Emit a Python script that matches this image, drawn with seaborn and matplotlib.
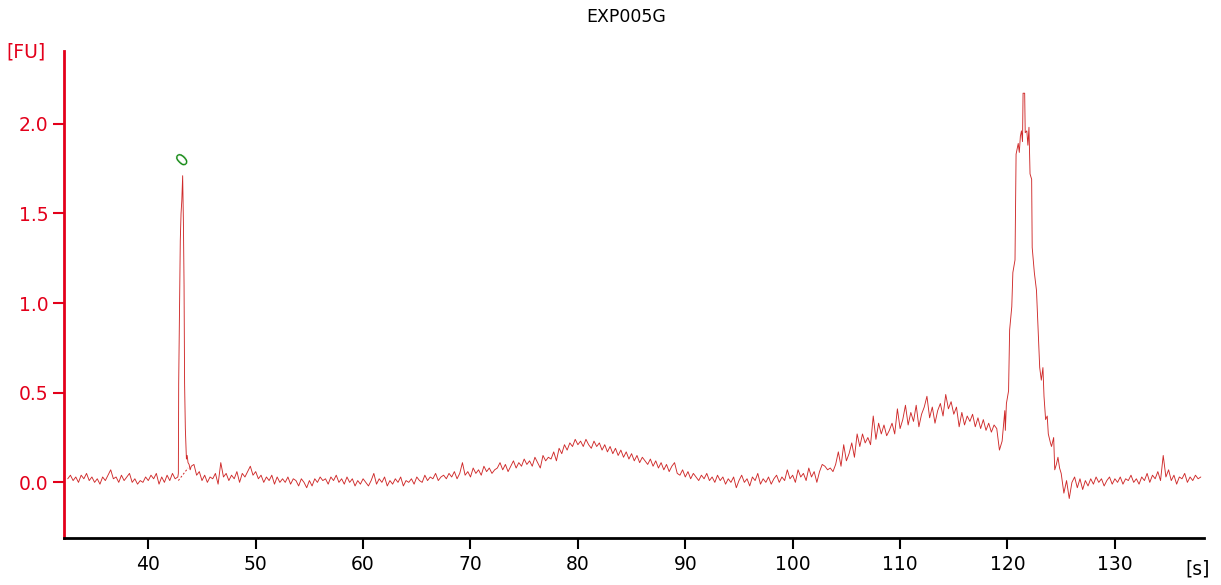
import numpy as np
import pandas as pd
import matplotlib
matplotlib.use("Agg")
import matplotlib.pyplot as plt
import seaborn as sns

title = "EXP005G"
x_unit = "[s]"
y_unit = "[FU]"

# uniform trace, one value every 0.25 s from 32.5 s
t_start = 32.5
t_step = 0.25
fu_grid = [
    0.02, 0.04, 0.01, 0.03, 0.00, 0.04, 0.02, 0.05, 0.01, 0.03, 0.00, 0.02, -0.01, 0.03, 0.01, 0.04, 0.07, 0.02, 0.03, 0.00,
    0.04, 0.01, 0.03, 0.05, 0.00, 0.02, -0.01, 0.01, 0.00, 0.03, 0.01, 0.04, 0.02, 0.05, -0.01, 0.03, 0.00, 0.04, 0.01, 0.05,
    0.02, 0.03, 0.95, 1.60, 0.13, 0.12, 0.08, 0.10, 0.04, 0.06, 0.01, 0.04, 0.00, 0.03, 0.02, 0.05, -0.01, 0.11, 0.03, 0.05,
    0.01, 0.04, 0.02, 0.06, 0.00, 0.05, 0.03, 0.06, 0.09, 0.04, 0.06, 0.02, 0.04, 0.00, 0.03, 0.01, 0.04, -0.01, 0.03, 0.00,
    0.02, 0.00, 0.03, -0.01, 0.02, 0.01, -0.02, 0.02, 0.00, -0.03, 0.01, -0.02, 0.02, 0.00, 0.03, 0.01, 0.02, -0.01, 0.03, 0.01,
    0.04, 0.00, 0.02, -0.01, 0.03, 0.00, 0.02, -0.02, 0.01, -0.01, 0.02, 0.00, -0.02, 0.01, 0.05, -0.01, 0.02, 0.00, 0.03, -0.02,
    0.01, -0.01, 0.02, 0.00, 0.03, -0.02, 0.01, 0.00, 0.02, -0.01, 0.03, 0.01, 0.00, 0.04, 0.01, 0.03, 0.02, 0.05, 0.01, 0.03,
    0.04, 0.02, 0.05, 0.03, 0.06, 0.02, 0.05, 0.11, 0.04, 0.06, 0.03, 0.08, 0.05, 0.07, 0.04, 0.09, 0.06, 0.08, 0.05, 0.07,
    0.08, 0.11, 0.07, 0.10, 0.06, 0.09, 0.12, 0.08, 0.11, 0.09, 0.13, 0.10, 0.12, 0.09, 0.14, 0.11, 0.08, 0.15, 0.12, 0.14,
    0.13, 0.17, 0.12, 0.19, 0.16, 0.21, 0.18, 0.22, 0.20, 0.24, 0.21, 0.23, 0.20, 0.24, 0.21, 0.19, 0.23, 0.20, 0.22, 0.18,
    0.21, 0.17, 0.20, 0.16, 0.19, 0.15, 0.18, 0.14, 0.17, 0.13, 0.16, 0.12, 0.15, 0.11, 0.14, 0.12, 0.10, 0.13, 0.09, 0.12,
    0.08, 0.11, 0.07, 0.10, 0.06, 0.09, 0.11, 0.05, 0.04, 0.07, 0.03, 0.06, 0.02, 0.05, 0.03, 0.01, 0.04, 0.02, 0.05, 0.01,
    0.03, 0.00, 0.04, 0.01, 0.03, -0.01, 0.02, 0.00, 0.03, -0.03, 0.01, 0.04, 0.00, 0.02, -0.02, 0.03, 0.01, 0.05, -0.01, 0.02,
    0.00, 0.03, -0.01, 0.02, 0.04, 0.00, 0.03, 0.01, 0.07, 0.02, 0.04, 0.00, 0.07, 0.03, 0.05, 0.01, 0.08, 0.03, 0.06, 0.00,
    0.06, 0.10, 0.09, 0.07, 0.08, 0.06, 0.10, 0.17, 0.09, 0.21, 0.12, 0.16, 0.22, 0.14, 0.27, 0.20, 0.27, 0.22, 0.25, 0.21,
    0.37, 0.24, 0.33, 0.27, 0.32, 0.26, 0.29, 0.33, 0.27, 0.41, 0.30, 0.35, 0.43, 0.32, 0.39, 0.34, 0.43, 0.31, 0.38, 0.42,
    0.48, 0.36, 0.42, 0.33, 0.40, 0.44, 0.37, 0.49, 0.41, 0.45, 0.38, 0.42, 0.31, 0.39, 0.32, 0.37, 0.34, 0.38, 0.31, 0.36,
    0.30, 0.35, 0.29, 0.33, 0.28, 0.32, 0.30, 0.18, 0.23, 0.40, 0.55, 0.95, 1.20, 1.85, 1.92, 1.95, 2.17, 1.96, 1.98, 1.35,
    1.15, 0.75, 0.55, 0.30, 0.20, 0.10, 0.14, 0.04, -0.04, 0.06, 0.00, -0.06, 0.01, -0.09, 0.00, 0.03, -0.03, 0.02, -0.04, 0.01,
    -0.02, 0.02, -0.01, 0.03, 0.00, 0.02, -0.02, 0.01, 0.03, -0.01, 0.02, 0.00, 0.03, -0.01, 0.02, 0.01, 0.04, 0.00, 0.02, -0.01,
    0.03, 0.01, 0.05, 0.00, 0.04, 0.02, 0.06, 0.01, 0.15, 0.03, 0.07, 0.01, 0.04, -0.01, 0.03, 0.02, 0.05, 0.00, 0.03, 0.01,
    0.04, 0.02, 0.03,
]

# finer detail of the two peaks
peak1_t = [42.75, 42.80, 42.83, 42.90, 42.98, 43.05, 43.12, 43.20, 43.27, 43.33, 43.38, 43.45, 43.55, 43.62, 43.70, 43.80, 43.90, 44.00]
peak1_fu = [0.03, 0.05, 0.55, 0.90, 1.35, 1.50, 1.57, 1.71, 1.45, 1.10, 0.55, 0.30, 0.13, 0.15, 0.11, 0.10, 0.07, 0.09]

peak2_t = [119.8, 119.9, 120.1, 120.2, 120.4, 120.5, 120.7, 120.8, 121.0, 121.1, 121.2, 121.3, 121.4, 121.45,
           121.6, 121.65, 121.8, 121.9, 122.0, 122.1, 122.25, 122.3, 122.5, 122.7, 122.9, 123.0, 123.15, 123.3,
           123.4, 123.55, 123.7, 123.8, 124.0, 124.1, 124.3, 124.4, 124.55, 124.7, 124.85, 125.0]
peak2_fu = [0.29, 0.44, 0.51, 0.85, 0.98, 1.17, 1.24, 1.83, 1.89, 1.84, 1.93, 1.96, 1.90, 2.17,
            2.17, 1.95, 1.96, 1.88, 1.98, 1.72, 1.69, 1.31, 1.17, 1.07, 0.79, 0.64, 0.57, 0.64,
            0.48, 0.35, 0.37, 0.27, 0.22, 0.20, 0.25, 0.07, 0.10, 0.14, 0.08, 0.05]

baseline1_t = [42.8, 43.7]
baseline1_fu = [0.01, 0.08]

peak_label = "0"
peak_label_t = 43.25
peak_label_fu = 1.80

x_ticks = [40, 50, 60, 70, 80, 90, 100, 110, 120, 130]
y_ticks = [0.0, 0.5, 1.0, 1.5, 2.0]

# ---- build table ----
t_grid = t_start + t_step * np.arange(len(fu_grid))
fu_arr = np.array(fu_grid)
in1 = (t_grid >= min(peak1_t)) & (t_grid <= max(peak1_t))
in2 = (t_grid >= min(peak2_t)) & (t_grid <= max(peak2_t))
keep = ~(in1 | in2)
t_all = np.concatenate([t_grid[keep], peak1_t, peak2_t])
fu_all = np.concatenate([fu_arr[keep], peak1_fu, peak2_fu])
order = np.argsort(t_all)
df = pd.DataFrame({"t": t_all[order], "fu": fu_all[order]})

sns.set_theme(style="white")
plt.rcParams["font.family"] = ["DejaVu Sans"]

RED = "#e3001b"
TRACE = "#cf2a2a"

fig = plt.figure(figsize=(12.21, 5.85), dpi=100)
ax = fig.add_axes([0.0524, 0.0798, 0.9337, 0.8335])

sns.lineplot(data=df, x="t", y="fu", ax=ax, color=TRACE, linewidth=0.65,
             estimator=None, sort=False)
ax.plot(baseline1_t, baseline1_fu, color=TRACE, linewidth=0.7, linestyle=(0, (2, 2)))

ax.text(peak_label_t, peak_label_fu, peak_label, color="#118811", fontsize=12,
        rotation=45, ha="center", va="center")

ax.set_xlim(32.15, 138.3)
ax.set_ylim(-0.312, 2.407)
ax.set_xticks(x_ticks)
ax.set_yticks(y_ticks)
ax.set_yticklabels([f"{v:.1f}" for v in y_ticks])
ax.set_xlabel("")
ax.set_ylabel("")

for s in ["top", "right"]:
    ax.spines[s].set_visible(False)
ax.spines["left"].set_color(RED)
ax.spines["left"].set_linewidth(2)
ax.spines["bottom"].set_color("black")
ax.spines["bottom"].set_linewidth(2)

ax.tick_params(axis="y", colors=RED, labelcolor=RED, length=8, width=1.5,
               direction="out", labelsize=13.5, pad=3, left=True)
ax.tick_params(axis="x", colors="black", labelcolor="black", length=8, width=1.5,
               direction="out", labelsize=13.5, pad=4, bottom=True)

fig.text(26 / 1221, 1 - 52 / 585, y_unit, color=RED, fontsize=13.5, ha="center", va="center")
fig.text(1198 / 1221, 1 - 569 / 585, x_unit, color="black", fontsize=13.5, ha="center", va="center")
fig.text(626 / 1221, 1 - 17 / 585, title, color="black", fontsize=12.5, ha="center", va="center")

fig.savefig("out.png", dpi=100, facecolor="white")
